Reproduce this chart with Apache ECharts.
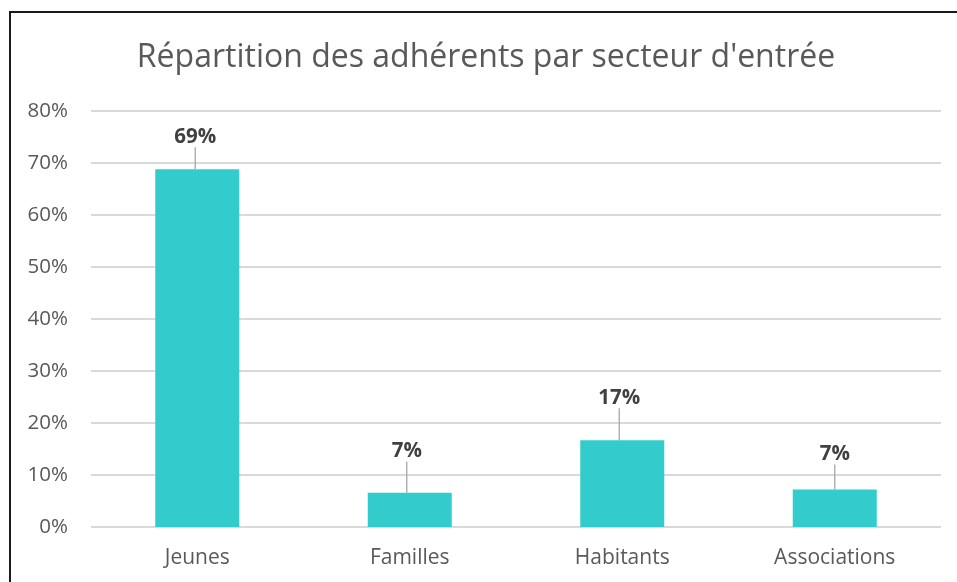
<!DOCTYPE html>
<html>
<head>
<meta charset="utf-8">
<script src="https://cdn.jsdelivr.net/npm/echarts@6/dist/echarts.min.js"></script>
<style>
html, body { margin: 0; padding: 0; background: #ffffff; overflow: hidden; }
#frame { position: absolute; left: 9px; top: 11px; width: 2000px; height: 2000px; border-left: 2px solid #1a1a1a; border-top: 2px solid #1a1a1a; }
#chart { position: absolute; left: 0; top: 0; width: 957px; height: 582px; }
</style>
</head>
<body>
<div id="frame"></div>
<div id="chart"></div>
<script>
// Data
const titleText = "Répartition des adhérents par secteur d'entrée";
const categories = ["Jeunes", "Familles", "Habitants", "Associations"];
const shares = [0.688, 0.066, 0.167, 0.072];
const yTicks = { min: 0, max: 0.8, interval: 0.1 };

// Layout of the callout labels (pixel lift above bar, horizontal nudge)
const calloutLift = [22, 31, 32, 25];
const calloutNudge = [-2, -3, -3, 0];

const chart = echarts.init(document.getElementById('chart'), null, { renderer: 'canvas' });
chart.setOption({
  backgroundColor: 'transparent',
  animation: false,
  title: {
    text: titleText,
    left: 481,
    textAlign: 'center',
    top: 37,
    textStyle: { fontFamily: 'Open Sans', fontSize: 32, fontWeight: 'normal', color: '#595959' }
  },
  grid: { left: 91, right: 16, top: 111, bottom: 55, containLabel: false },
  xAxis: {
    type: 'category',
    data: categories,
    axisLine: { show: false },
    axisTick: { show: false },
    axisLabel: { margin: 21, fontFamily: 'Open Sans', fontSize: 21, color: '#595959' }
  },
  yAxis: {
    type: 'value',
    min: yTicks.min,
    max: yTicks.max,
    interval: yTicks.interval,
    axisLine: { show: false },
    axisTick: { show: false },
    splitLine: { lineStyle: { color: '#d9d9d9', width: 2 } },
    axisLabel: {
      margin: 23,
      fontFamily: 'Open Sans', fontSize: 20.5, color: '#595959',
      formatter: v => Math.round(v * 100) + '%'
    }
  },
  series: [{
    type: 'bar',
    data: shares,
    barWidth: 84,
    itemStyle: { color: '#33cccc' },
    label: {
      show: true,
      position: 'top',
      distance: 0,
      fontFamily: 'Open Sans', fontSize: 20.5, fontWeight: 'bold', color: '#404040',
      formatter: p => Math.round(p.value * 100) + '%'
    },
    labelLine: { show: true, lineStyle: { color: '#a6a6a6', width: 1.3 } },
    labelLayout: p => ({ dy: -calloutLift[p.dataIndex], dx: calloutNudge[p.dataIndex] })
  }]
});
</script>
</body>
</html>
